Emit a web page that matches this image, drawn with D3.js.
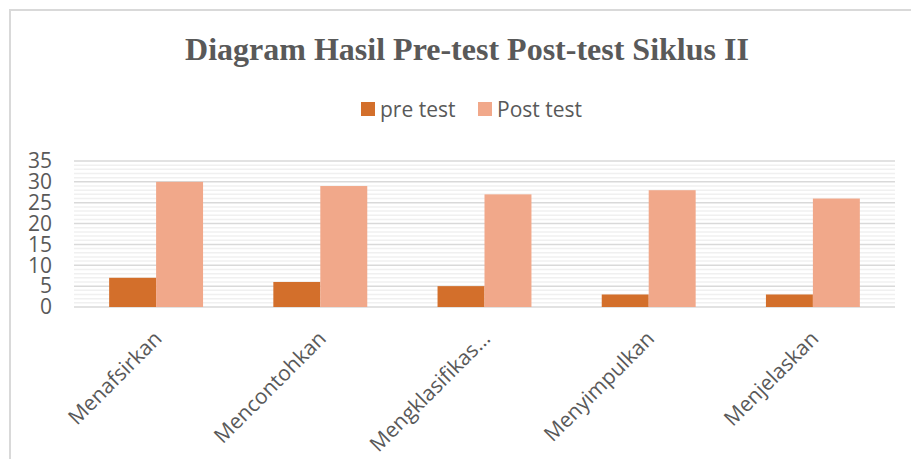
<!DOCTYPE html>
<html>
<head>
<meta charset="utf-8">
<script src="https://cdn.jsdelivr.net/npm/d3@7"></script>
<style>
  body { margin: 0; background: #fff; }
</style>
</head>
<body>
<svg id="chart" width="911" height="459"></svg>
<script>
const categories = ["Menafsirkan", "Mencontohkan", "Mengklasifikas…", "Menyimpulkan", "Menjelaskan"];
const seriesNames = ["pre test", "Post test"];
const preTest = [7, 6, 5, 3, 3];
const postTest = [30, 29, 27, 28, 26];
const yTicks = [0, 5, 10, 15, 20, 25, 30, 35];

const colors = ["#d36f2b", "#f1a88a"];
const textColor = "#595959";
const sans = "'Open Sans', 'Noto Sans', sans-serif";

const svg = d3.select("#chart");
const margin = { top: 161, right: 16, bottom: 152, left: 74 };
const width = 911 - margin.left - margin.right;
const height = 459 - margin.top - margin.bottom;

// chart frame (only top and left visible)
svg.append("rect")
    .attr("x", 10).attr("y", 10)
    .attr("width", 940).attr("height", 500)
    .attr("fill", "none")
    .attr("stroke", "#d9d9d9")
    .attr("stroke-width", 2);

svg.append("text")
    .attr("x", 467).attr("y", 60)
    .attr("text-anchor", "middle")
    .attr("font-family", "'Liberation Serif', 'Times New Roman', serif")
    .attr("font-weight", "bold")
    .attr("font-size", 32)
    .attr("fill", textColor)
    .text("Diagram Hasil Pre-test Post-test Siklus II");

// legend
const legend = svg.append("g").attr("transform", "translate(361,102)");
const legendX = [0, 117];
seriesNames.forEach((name, i) => {
    const lg = legend.append("g").attr("transform", `translate(${legendX[i]},0)`);
    lg.append("rect").attr("width", 14).attr("height", 14).attr("fill", colors[i]);
    lg.append("text")
        .attr("x", 19).attr("y", 15)
        .attr("font-family", sans)
        .attr("font-size", 21)
        .attr("fill", textColor)
        .text(name);
});

const g = svg.append("g").attr("transform", `translate(${margin.left},${margin.top})`);

const x = d3.scaleBand().domain(categories).range([0, width]);
const y = d3.scaleLinear().domain([0, 35]).range([height, 0]);

// minor gridlines every 1
g.append("g")
    .selectAll("line")
    .data(d3.range(0, 36).filter(v => v % 5 !== 0))
    .join("line")
    .attr("x1", 0).attr("x2", width)
    .attr("y1", d => y(d)).attr("y2", d => y(d))
    .attr("stroke", "#f0f0f0")
    .attr("stroke-width", 1.5);

// major gridlines
g.append("g")
    .selectAll("line")
    .data(yTicks)
    .join("line")
    .attr("x1", 0).attr("x2", width)
    .attr("y1", d => y(d)).attr("y2", d => y(d))
    .attr("stroke", "#d9d9d9")
    .attr("stroke-width", 1.5);

const barW = x.bandwidth() * 0.286;
const data = categories.map((c, i) => ({ c, vals: [preTest[i], postTest[i]] }));

g.append("g")
    .selectAll("g")
    .data(data)
    .join("g")
    .attr("transform", d => `translate(${x(d.c) + x.bandwidth() / 2 - barW},0)`)
    .selectAll("rect")
    .data(d => d.vals)
    .join("rect")
    .attr("x", (d, i) => i * barW)
    .attr("y", d => y(d))
    .attr("width", barW)
    .attr("height", d => height - y(d))
    .attr("fill", (d, i) => colors[i]);

// y axis labels
const yAxis = g.append("g")
    .call(d3.axisLeft(y).tickValues(yTicks).tickSize(0).tickPadding(22));
yAxis.select(".domain").remove();
yAxis.selectAll("text")
    .attr("font-family", sans)
    .attr("font-size", 21)
    .attr("fill", textColor);

// x axis labels
const xAxis = g.append("g")
    .attr("transform", `translate(0,${height})`)
    .call(d3.axisBottom(x).tickSize(0).tickPadding(0));
xAxis.select(".domain").remove();
xAxis.selectAll("text")
    .attr("font-family", sans)
    .attr("font-size", 21)
    .attr("fill", textColor)
    .attr("text-anchor", "end")
    .attr("dy", 0)
    .attr("transform", "translate(7,33) rotate(-45)");
</script>
</body>
</html>
